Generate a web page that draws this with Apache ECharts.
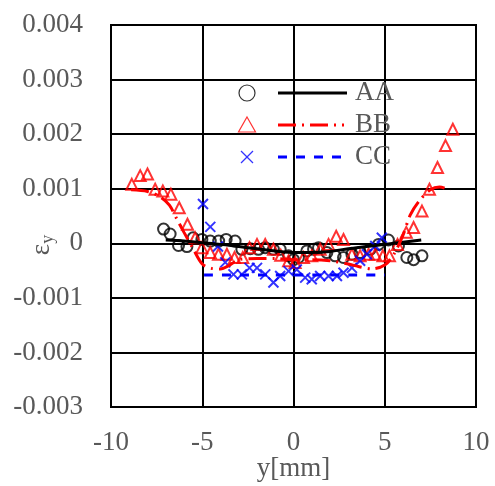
<!DOCTYPE html>
<html>
<head>
<meta charset="utf-8">
<script src="https://cdn.jsdelivr.net/npm/echarts@6/dist/echarts.min.js"></script>
<style>
  html, body { margin: 0; padding: 0; background: #fff; }
  #chart { width: 495px; height: 486px; }
</style>
</head>
<body>
<div id="chart"></div>
<script>
// Measured strain ε_y across the width y [mm] for three specimens
const seriesNames = ['AA', 'BB', 'CC'];

// AA: measured points and fitted curve
const aaPoints = [
  [-7.12, 0.00026], [-6.76, 0.00017], [-6.3, -0.00004], [-5.84, -0.00006],
  [-5.5, 0.0001], [-5.02, 0.00007], [-4.56, 0.00004], [-4.1, 0.00004],
  [-3.69, 0.00007], [-3.2, 0.00004], [-2.83, -0.00011], [-2.37, -0.0001],
  [-1.92, -0.00011], [-1.55, -0.00008], [-1.1, -0.00011], [-0.73, -0.00011],
  [-0.27, -0.00023], [0.0, -0.0003], [0.27, -0.00026], [0.73, -0.00014],
  [1.1, -0.00011], [1.37, -0.00008], [1.83, -0.00017], [2.28, -0.00023],
  [2.74, -0.00026], [3.2, -0.0002], [3.65, -0.00017], [4.2, -0.00011],
  [4.66, -0.00002], [5.2, 0.00006], [5.75, -0.00005], [6.21, -0.00026],
  [6.58, -0.0003], [7.04, -0.00023]
];
const aaFit = [
  [-7.0, 0.00006], [-6.0, 0.00004], [-5.0, 0.00001], [-4.0, -0.00002],
  [-3.0, -0.00006], [-2.0, -0.0001], [-1.0, -0.00014], [0.0, -0.00017],
  [1.0, -0.00017], [2.0, -0.00015], [3.0, -0.0001], [4.0, -0.00006],
  [5.0, -0.00002], [6.0, 0.00002], [7.0, 0.00006]
];

// BB: measured points and fitted curve
const bbPoints = [
  [-8.86, 0.00108], [-8.4, 0.00124], [-8.0, 0.00127], [-7.58, 0.00099],
  [-7.16, 0.00096], [-6.72, 0.0009], [-6.26, 0.00065], [-5.81, 0.00035],
  [-5.39, 0.0001], [-5.02, -0.00008], [-4.56, -0.00017], [-4.11, -0.0002],
  [-3.65, -0.0002], [-3.23, -0.00026], [-2.78, -0.00026], [-2.41, -0.00008],
  [-2.0, -0.00002], [-1.55, -0.00002], [-1.1, -0.00011], [-0.7, -0.00022],
  [-0.27, -0.00032], [0.09, -0.00035], [0.55, -0.00026], [1.0, -0.00023],
  [1.46, -0.00011], [1.92, -0.00002], [2.34, 0.00013], [2.74, 0.00007],
  [3.2, -0.0002], [3.65, -0.00023], [4.11, -0.0002], [4.48, -0.0002],
  [4.9, -0.00023], [5.26, -0.00023], [5.7, -0.00002], [6.18, 0.0002],
  [6.58, 0.00029], [7.04, 0.00059], [7.45, 0.00099], [7.89, 0.00139],
  [8.33, 0.00179], [8.73, 0.00209]
];
const bbFit = [
  [-8.9, 0.00098], [-8.0, 0.00095], [-7.3, 0.00085], [-6.8, 0.0007],
  [-6.4, 0.00045], [-6.0, 0.0002], [-5.5, -0.0001], [-5.0, -0.00038],
  [-4.5, -0.00046], [-4.0, -0.00047], [-3.5, -0.0004], [-3.0, -0.0003],
  [-2.0, -0.00028], [-1.0, -0.00028], [0.0, -0.0003], [1.0, -0.0003],
  [2.0, -0.00032], [3.0, -0.00038], [3.6, -0.00043], [4.3, -0.00047],
  [5.0, -0.0004], [5.5, -0.0002], [6.0, 0.00015], [6.4, 0.00052],
  [6.9, 0.00078], [7.5, 0.00098], [8.0, 0.00103], [8.6, 0.00097]
];

// CC: measured points and fitted level
const ccPoints = [
  [-4.96, 0.00072], [-4.56, 0.0003], [-4.14, -0.00006], [-3.74, -0.00035],
  [-3.29, -0.00057], [-2.83, -0.00057], [-2.41, -0.00045], [-2.0, -0.00045],
  [-1.55, -0.00057], [-1.1, -0.00072], [-0.73, -0.0006], [-0.27, -0.00051],
  [0.18, -0.00048], [0.64, -0.00063], [1.0, -0.00066], [1.46, -0.0006],
  [1.92, -0.0006], [2.38, -0.0006], [2.74, -0.00054], [3.2, -0.00045],
  [3.65, -0.00032], [4.02, -0.0002], [4.48, -0.00005], [4.84, 0.0001]
];
const ccFit = [[-4.9, -0.00058], [5.0, -0.00058]];

// Axis ticks
const xTicks = [-10, -5, 0, 5, 10];
const yTicks = [-0.003, -0.002, -0.001, 0, 0.001, 0.002, 0.003, 0.004];

const FONT = '"Liberation Serif", "Times New Roman", serif';
const TEXT = '#595959';
const colors = { AA: '#000000', BB: '#ff0000', CC: '#0000ff' };
const crossPath = 'path://M0,0L10,10M10,0L0,10';

const chart = echarts.init(document.getElementById('chart'), null, { renderer: 'canvas' });

// Legend: marker + line sample + name, drawn inside the plot area
const legendRows = [
  { name: seriesNames[0], y: 93, color: '#000', dash: null },
  { name: seriesNames[1], y: 125, color: '#ff0000', dash: [18, 6, 2, 6] },
  { name: seriesNames[2], y: 157, color: '#0000ff', dash: [9, 9] }
];
const legendGraphics = [];
legendRows.forEach((r, i) => {
  const mx = 247;
  if (i === 0) {
    legendGraphics.push({ type: 'circle', shape: { cx: mx, cy: r.y, r: 8 },
      style: { fill: 'none', stroke: '#333', lineWidth: 1.2 }, z: 100 });
  } else if (i === 1) {
    legendGraphics.push({ type: 'polygon',
      shape: { points: [[mx, r.y - 8], [mx + 8.5, r.y + 7], [mx - 8.5, r.y + 7]] },
      style: { fill: 'none', stroke: '#ff3333', lineWidth: 1.2 }, z: 100 });
  } else {
    legendGraphics.push({ type: 'polyline', shape: { points: [[mx - 6, r.y - 6], [mx + 6, r.y + 6]] },
      style: { stroke: '#3333ff', lineWidth: 1.2 }, z: 100 });
    legendGraphics.push({ type: 'polyline', shape: { points: [[mx + 6, r.y - 6], [mx - 6, r.y + 6]] },
      style: { stroke: '#3333ff', lineWidth: 1.2 }, z: 100 });
  }
  legendGraphics.push({ type: 'line', shape: { x1: 278, y1: r.y, x2: i === 0 ? 347 : 344, y2: r.y },
    style: { stroke: r.color, lineWidth: 3, lineDash: r.dash || null }, z: 100 });
  legendGraphics.push({ type: 'text', x: 355, y: r.y, z: 100,
    style: { text: r.name, font: '27px ' + FONT, fill: TEXT, textVerticalAlign: 'middle', textAlign: 'left' } });
});

const scatterSeries = (name, data, symbol, size) => ({
  name, type: 'scatter', data, symbol, symbolSize: size,
  itemStyle: { color: 'transparent', borderColor: colors[name], borderWidth: 2 },
  emphasis: { disabled: true }, z: 3
});
const fitSeries = (name, data, dash) => ({
  name: name + '-fit', type: 'line', data, showSymbol: false, smooth: 0.3,
  lineStyle: { color: colors[name], width: 3, type: dash },
  emphasis: { disabled: true }, z: 4
});

chart.setOption({
  animation: false,
  backgroundColor: '#fff',
  grid: {
    left: 111, right: 19, top: 25, bottom: 79,
    containLabel: false, outerBoundsMode: 'none',
    show: true, borderColor: '#000', borderWidth: 2
  },
  xAxis: {
    type: 'value', min: xTicks[0], max: xTicks[xTicks.length - 1], interval: 5,
    name: 'y[mm]', nameLocation: 'middle', nameGap: 48, nameMoveOverlap: false,
    nameTextStyle: { fontFamily: FONT, fontSize: 27, color: TEXT },
    axisLine: { show: false }, axisTick: { show: false },
    axisLabel: { fontFamily: FONT, fontSize: 27, color: TEXT, margin: 22 },
    splitLine: { show: true, lineStyle: { color: '#000', width: 2 } }
  },
  yAxis: {
    type: 'value', min: yTicks[0], max: yTicks[yTicks.length - 1], interval: 0.001,
    name: '{a|ε}{b|y}', nameLocation: 'middle', nameGap: 54, nameRotate: 90, nameMoveOverlap: false,
    nameTextStyle: {
      color: TEXT,
      padding: [0, 58, 0, 0],
      rich: {
        a: { fontFamily: FONT, fontSize: 27, color: TEXT },
        b: { fontFamily: FONT, fontSize: 18, color: TEXT, verticalAlign: 'bottom', padding: [12, 0, 0, 0] }
      }
    },
    axisLine: { show: false }, axisTick: { show: false },
    axisLabel: {
      fontFamily: FONT, fontSize: 27, color: TEXT, margin: 28,
      formatter: v => (Math.abs(v) < 1e-12 ? '0' : v.toFixed(3))
    },
    splitLine: { show: true, lineStyle: { color: '#000', width: 2 } }
  },
  graphic: legendGraphics,
  series: [
    scatterSeries('AA', aaPoints, 'circle', 11),
    scatterSeries('BB', bbPoints, 'triangle', 11),
    scatterSeries('CC', ccPoints, crossPath, 10),
    fitSeries('AA', aaFit, 'solid'),
    fitSeries('BB', bbFit, [18, 6, 2, 6]),
    fitSeries('CC', ccFit, [9, 9])
  ]
});
</script>
</body>
</html>
